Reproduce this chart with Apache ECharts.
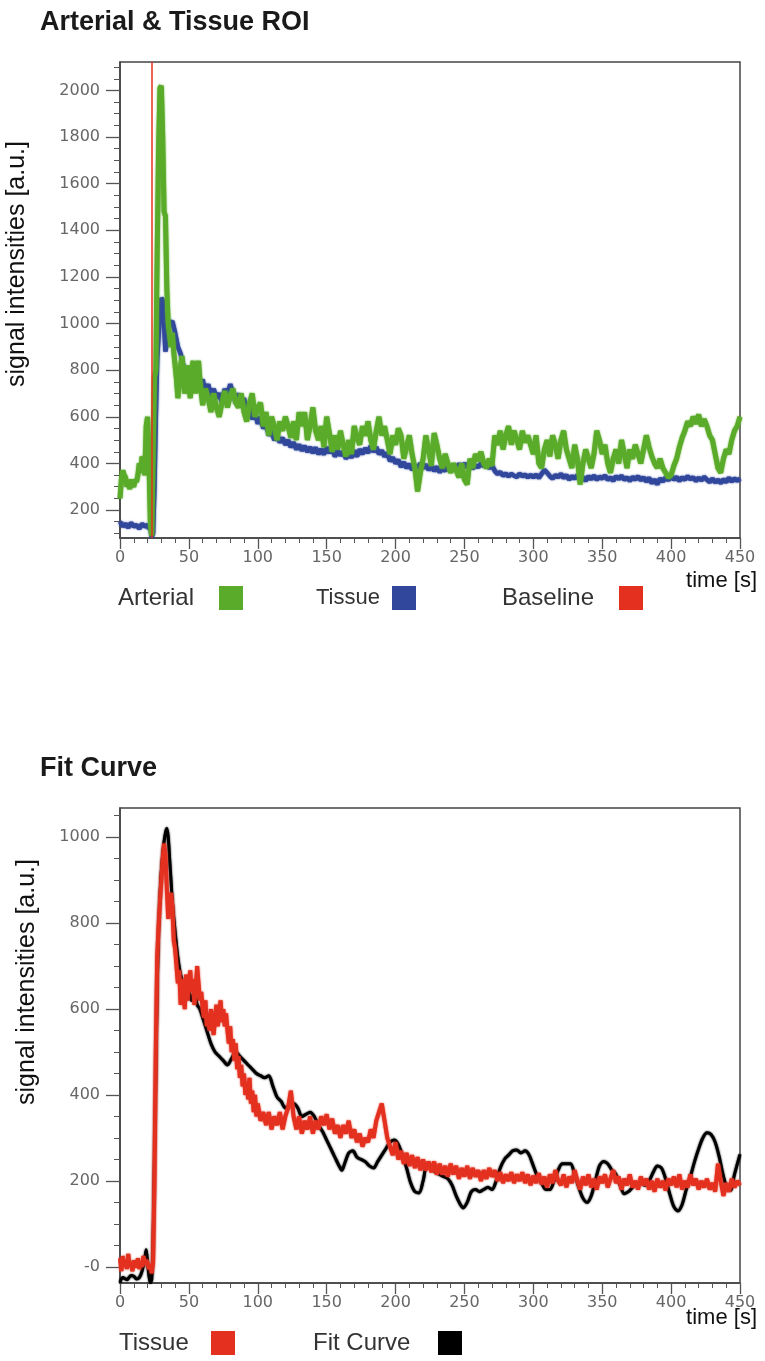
<!DOCTYPE html>
<html><head><meta charset="utf-8">
<script src="https://cdn.jsdelivr.net/npm/echarts@6/dist/echarts.min.js"></script>
<style>html,body{margin:0;padding:0;background:#fff}#c{width:765px;height:1361px}</style>
</head><body><div id="c"></div>
<script>
// ---------- data ----------
const xTicks = [0, 50, 100, 150, 200, 250, 300, 350, 400, 450];
const topYTicks = [200, 400, 600, 800, 1000, 1200, 1400, 1600, 1800, 2000];
const topYMinorTicks = [100,150,250,300,350,450,500,550,650,700,750,850,900,950,1050,1100,1150,1250,1300,1350,1450,1500,1550,1650,1700,1750,1850,1900,1950,2050,2100];
const botYTicks = [0, 200, 400, 600, 800, 1000];
const botYMinorTicks = [50,100,150,250,300,350,450,500,550,650,700,750,850,900,950,1050];

const topTitle = 'Arterial & Tissue ROI';
const botTitle = 'Fit Curve';
const yName = 'signal intensities [a.u.]';
const xName = 'time [s]';
const topNames = ['Arterial', 'Tissue', 'Baseline'];
const topColors = ['#5aab2a', '#30479c', '#e3301f'];
const botNames = ['Tissue', 'Fit Curve'];
const botColors = ['#e3301f', '#000000'];
const baselineTime = 23;

// Arterial ROI [time s, signal]
const arterial = [[0,250],[1,330],[2,370],[3,350],[4,340],[5,300],[6,320],[7,290],[8,330],[9,310],[10,300],[11,330],[12,320],[13,350],[14,400],[15,360],[16,430],[17,380],[18,350],[19,560],[20,600],[21,420],[22,150],[23,90],[24,420],[25,770],[26,800],[27,1300],[28,1750],[29,2010],[30,2020],[31,1800],[32,1480],[33,1460],[34,1150],[35,1000],[36,950],[37,900],[38,960],[39,880],[40,820],[41,760],[42,680],[43,740],[44,820],[45,860],[46,780],[47,700],[48,760],[49,820],[50,740],[51,680],[52,780],[53,840],[54,770],[55,700],[56,800],[57,840],[58,760],[59,700],[60,650],[62,720],[64,680],[66,620],[68,700],[70,640],[72,600],[74,660],[76,710],[78,640],[80,690],[82,720],[84,660],[86,640],[88,700],[90,620],[92,580],[94,660],[96,700],[98,600],[100,640],[102,660],[104,560],[106,620],[108,520],[110,600],[112,560],[114,500],[116,580],[118,540],[120,600],[122,560],[124,510],[126,580],[128,500],[130,620],[132,560],[134,620],[136,500],[138,560],[140,640],[142,540],[144,500],[146,560],[148,470],[150,600],[152,530],[154,450],[156,520],[158,460],[160,540],[162,480],[164,430],[166,500],[168,440],[170,560],[172,510],[174,480],[176,560],[178,520],[180,580],[182,500],[184,460],[186,540],[188,600],[190,520],[192,560],[194,500],[196,440],[198,520],[200,480],[202,550],[204,520],[206,420],[208,470],[210,520],[212,440],[214,380],[216,280],[218,360],[220,420],[222,520],[224,460],[226,390],[228,530],[230,480],[232,420],[234,380],[236,440],[238,400],[240,360],[242,400],[244,370],[246,340],[248,400],[250,330],[252,310],[254,420],[256,380],[258,440],[260,410],[262,450],[264,400],[266,380],[268,420],[270,390],[272,520],[274,480],[276,540],[278,460],[280,520],[282,560],[284,480],[286,540],[288,500],[290,460],[292,540],[294,490],[296,520],[298,480],[300,440],[302,520],[304,400],[306,380],[308,460],[310,500],[312,430],[314,520],[316,480],[318,420],[320,500],[322,540],[324,460],[326,420],[328,380],[330,480],[332,420],[334,310],[336,400],[338,460],[340,420],[342,380],[344,440],[346,540],[348,500],[350,440],[352,480],[354,400],[356,360],[358,420],[360,460],[362,400],[364,500],[366,440],[368,380],[370,460],[372,420],[374,480],[376,440],[378,400],[380,460],[382,520],[384,470],[386,430],[388,400],[390,380],[392,420],[394,380],[396,360],[398,340],[400,350],[402,390],[404,420],[406,470],[408,510],[410,540],[412,580],[414,560],[416,600],[418,570],[420,610],[422,560],[424,590],[426,560],[428,520],[430,500],[432,440],[434,380],[436,360],[438,420],[440,460],[442,440],[444,500],[446,540],[448,560],[450,600]];

// Tissue ROI (top chart)
const tissue = [[0,150],[1,140],[2,130],[4,140],[6,125],[8,145],[10,130],[12,135],[14,120],[16,140],[18,130],[20,135],[21,120],[22,130],[23,85],[24,100],[25,300],[26,600],[27,850],[28,950],[29,1050],[30,1110],[31,1100],[32,1000],[33,880],[34,920],[35,980],[36,1000],[38,1010],[40,960],[42,900],[44,870],[46,820],[48,790],[50,760],[52,800],[54,740],[56,780],[58,720],[60,760],[62,700],[64,740],[66,690],[68,720],[70,680],[72,700],[74,660],[76,720],[78,690],[80,740],[82,700],[84,660],[86,700],[88,650],[90,680],[92,620],[94,640],[96,590],[98,620],[100,570],[102,600],[104,550],[106,570],[108,520],[110,540],[112,500],[114,520],[116,490],[118,510],[120,480],[122,500],[124,470],[126,490],[128,460],[130,480],[132,455],[134,475],[136,450],[138,470],[140,445],[142,468],[144,440],[146,462],[148,438],[150,470],[152,445],[154,465],[156,430],[158,455],[160,435],[162,450],[164,420],[166,445],[168,425],[170,455],[172,430],[174,460],[176,440],[178,465],[180,445],[182,475],[184,450],[186,470],[188,440],[190,455],[192,430],[194,445],[196,410],[198,425],[200,400],[202,415],[204,385],[206,405],[208,380],[210,398],[212,372],[214,392],[216,378],[218,400],[220,380],[222,395],[224,372],[226,390],[228,368],[230,385],[232,362],[234,380],[236,368],[238,388],[240,372],[242,392],[244,378],[246,398],[248,382],[250,400],[252,383],[254,396],[256,378],[258,392],[260,384],[262,400],[264,388],[266,396],[268,380],[270,392],[272,368],[274,355],[276,362],[278,348],[280,356],[282,344],[284,355],[286,347],[288,342],[290,356],[292,345],[294,352],[296,340],[298,350],[300,340],[302,352],[304,338],[306,355],[308,372],[310,360],[312,345],[314,335],[316,350],[318,340],[320,355],[322,338],[324,350],[326,330],[328,345],[330,335],[332,350],[334,330],[336,342],[338,325],[340,345],[342,332],[344,348],[346,330],[348,343],[350,335],[352,348],[354,330],[356,340],[358,325],[360,345],[362,333],[364,347],[366,330],[368,340],[370,325],[372,342],[374,330],[376,345],[378,328],[380,340],[382,322],[384,338],[386,315],[388,330],[390,310],[392,335],[394,322],[396,340],[398,328],[400,345],[402,330],[404,342],[406,325],[408,340],[410,330],[412,345],[414,332],[416,340],[418,325],[420,338],[422,328],[424,342],[426,330],[428,320],[430,335],[432,318],[434,330],[436,315],[438,332],[440,320],[442,338],[444,322],[446,335],[448,325],[450,335]];

// Tissue (bottom chart)
const fitTissue = [[0,20],[1,-10],[2,25],[3,0],[4,15],[5,-5],[6,30],[7,0],[8,10],[9,-10],[10,15],[11,5],[12,0],[13,20],[14,-5],[15,10],[16,0],[17,25],[18,5],[19,15],[20,10],[21,-5],[22,5],[23,-15],[24,10],[25,200],[26,500],[27,720],[28,790],[29,850],[30,900],[31,950],[32,985],[33,960],[34,880],[35,810],[36,850],[37,870],[38,840],[39,760],[40,740],[41,700],[42,660],[43,690],[44,610],[45,670],[46,640],[47,600],[48,680],[49,620],[50,660],[51,690],[52,640],[53,670],[54,610],[55,650],[56,700],[57,660],[58,620],[59,640],[60,600],[61,580],[62,620],[63,560],[64,590],[65,550],[66,600],[67,560],[68,540],[69,580],[70,610],[71,560],[72,590],[73,620],[74,570],[75,600],[76,560],[77,590],[78,550],[79,520],[80,560],[81,500],[82,530],[83,480],[84,520],[85,460],[86,490],[87,440],[88,470],[89,420],[90,450],[91,400],[92,430],[93,390],[94,440],[95,380],[96,410],[97,360],[98,400],[99,350],[100,380],[102,340],[104,360],[106,330],[108,360],[110,320],[112,350],[114,330],[116,360],[118,320],[120,350],[122,370],[124,410],[126,350],[128,320],[130,350],[132,310],[134,340],[136,320],[138,350],[140,310],[142,340],[144,320],[146,350],[148,330],[150,355],[152,320],[154,345],[156,310],[158,330],[160,300],[162,330],[164,310],[166,340],[168,300],[170,320],[172,290],[174,310],[176,280],[178,300],[180,290],[182,320],[184,300],[186,340],[188,360],[190,380],[192,340],[194,300],[196,280],[198,260],[200,290],[202,250],[204,270],[206,240],[208,265],[210,235],[212,260],[214,230],[216,255],[218,225],[220,250],[222,225],[224,245],[226,220],[228,245],[230,215],[232,240],[234,215],[236,235],[238,210],[240,240],[242,215],[244,235],[246,205],[248,230],[250,210],[252,235],[254,205],[256,230],[258,210],[260,225],[262,200],[264,225],[266,205],[268,230],[270,210],[272,225],[274,200],[276,220],[278,195],[280,215],[282,200],[284,220],[286,195],[288,215],[290,200],[292,220],[294,195],[296,215],[298,190],[300,212],[302,195],[304,218],[306,192],[308,210],[310,185],[312,215],[314,195],[316,225],[318,200],[320,190],[322,215],[324,185],[326,210],[328,195],[330,225],[332,200],[334,180],[336,210],[338,190],[340,215],[342,185],[344,205],[346,180],[348,210],[350,195],[352,215],[354,185],[356,205],[358,225],[360,195],[362,210],[364,180],[366,205],[368,190],[370,215],[372,185],[374,200],[376,180],[378,210],[380,190],[382,205],[384,180],[386,200],[388,175],[390,205],[392,185],[394,200],[396,178],[398,205],[400,190],[402,210],[404,185],[406,215],[408,180],[410,200],[412,185],[414,215],[416,190],[418,205],[420,180],[422,200],[424,185],[426,205],[428,180],[430,195],[432,175],[434,240],[436,200],[438,165],[440,195],[442,175],[444,205],[446,185],[448,200],[450,190]];

// Fit curve
const fitCurve = [[0,-37],[2,-25],[5,-30],[8,-20],[10,-22],[12,-28],[14,-25],[16,-10],[18,20],[19,40],[20,10],[21,-20],[22,-37],[23,-30],[24,50],[25,250],[26,450],[27,650],[28,780],[29,860],[30,920],[31,960],[32,990],[33,1010],[34,1020],[35,1000],[36,950],[37,900],[38,850],[40,780],[42,720],[44,680],[46,660],[48,650],[50,640],[52,620],[54,640],[56,610],[58,600],[60,580],[63,550],[66,520],[69,500],[72,490],[75,480],[78,470],[81,485],[84,500],[87,490],[90,480],[93,470],[96,460],[99,450],[102,445],[105,440],[108,445],[111,420],[114,395],[117,385],[120,370],[123,375],[126,380],[129,370],[132,350],[135,355],[138,360],[141,350],[144,330],[147,315],[150,295],[153,275],[156,255],[159,235],[161,225],[163,240],[166,265],[169,270],[172,255],[175,250],[178,245],[181,235],[184,230],[187,245],[190,260],[193,275],[196,290],[199,295],[202,285],[205,260],[208,230],[211,195],[214,175],[217,172],[220,200],[223,240],[226,235],[229,220],[232,215],[235,210],[238,205],[241,190],[244,165],[247,145],[249,137],[252,150],[255,175],[258,180],[261,175],[264,180],[267,185],[270,180],[273,200],[276,230],[279,250],[282,260],[285,270],[288,272],[291,265],[294,270],[297,260],[300,235],[303,210],[306,195],[309,180],[312,180],[315,200],[318,225],[321,240],[324,240],[327,240],[330,215],[333,185],[336,160],[339,150],[342,165],[345,200],[348,235],[351,245],[354,240],[357,225],[360,215],[363,190],[366,170],[369,175],[372,185],[375,195],[378,195],[381,190],[384,200],[387,220],[390,235],[393,230],[396,205],[399,170],[402,140],[405,130],[408,145],[411,180],[414,210],[417,245],[420,275],[423,300],[426,312],[429,308],[432,290],[435,255],[438,210],[441,180],[443,178],[446,215],[450,262]];

// ---------- chart ----------
const chart = echarts.init(document.getElementById('c'), null, {renderer: 'canvas'});
const FRAME = '#444';
const TICKC = '#555';
const labelFont = {fontFamily: 'DejaVu Sans', fontSize: 16, color: '#666'};

function xAxisDef(gi) {
  return {
    type: 'value', gridIndex: gi, min: xTicks[0], max: xTicks[xTicks.length - 1], interval: 50,
    axisLine: {show: true, onZero: false, lineStyle: {color: FRAME, width: 1.5}},
    axisTick: {show: true, length: 11, lineStyle: {color: TICKC, width: 1.3}},
    minorTick: {show: true, splitNumber: 5, length: 5, lineStyle: {color: TICKC, width: 1}},
    axisLabel: Object.assign({margin: 12, formatter: v => String(v)}, labelFont),
    splitLine: {show: false}
  };
}
function yMajor(gi, min, max, ticks, fmt) {
  return {
    type: 'value', gridIndex: gi, min: min, max: max, position: 'left',
    axisLine: {show: true, onZero: false, lineStyle: {color: FRAME, width: 1.5}},
    axisTick: {show: true, length: 14, customValues: ticks, lineStyle: {color: TICKC, width: 1.3}},
    axisLabel: Object.assign({margin: 20, customValues: ticks, formatter: fmt || (v => String(v))}, labelFont),
    splitLine: {show: false}
  };
}
function yMinor(gi, min, max, ticks) {
  return {
    type: 'value', gridIndex: gi, min: min, max: max, position: 'left', offset: 0,
    axisLine: {show: false},
    axisTick: {show: true, length: 6, customValues: ticks, lineStyle: {color: TICKC, width: 1}},
    axisLabel: {show: false},
    splitLine: {show: false}
  };
}

const textFont = 'Liberation Sans, Arial, sans-serif';
function legendItems(names, colors, textX, sizes, boxX, cy) {
  const out = [];
  names.forEach((n, i) => {
    out.push({type: 'text', x: textX[i], y: cy, style: {text: n, font: sizes[i] + 'px ' + textFont, fill: '#333', textVerticalAlign: 'middle', textAlign: 'left'}});
    out.push({type: 'rect', shape: {x: boxX[i], y: cy - 12, width: 24, height: 24}, style: {fill: colors[i]}});
  });
  return out;
}

const option = {
  animation: false,
  backgroundColor: '#fff',
  title: [
    {text: topTitle, left: 35, top: 4, textStyle: {fontFamily: textFont, fontSize: 27, fontWeight: 'bold', color: '#1a1a1a'}},
    {text: botTitle, left: 35, top: 750, textStyle: {fontFamily: textFont, fontSize: 27, fontWeight: 'bold', color: '#1a1a1a'}}
  ],
  grid: [
    {left: 120, top: 62, width: 620, height: 476, show: true, borderColor: FRAME, borderWidth: 1.5, backgroundColor: 'transparent'},
    {left: 120, top: 808, width: 620, height: 475, show: true, borderColor: FRAME, borderWidth: 1.5, backgroundColor: 'transparent'}
  ],
  xAxis: [xAxisDef(0), xAxisDef(1)],
  yAxis: [
    yMajor(0, 80, 2122, topYTicks),
    yMinor(0, 80, 2122, topYMinorTicks),
    yMajor(1, -37.6, 1068, botYTicks, v => (v === 0 ? '-0' : String(v))),
    yMinor(1, -37.6, 1068, botYMinorTicks)
  ],
  series: [
    {name: topNames[1], type: 'line', xAxisIndex: 0, yAxisIndex: 0, data: tissue, showSymbol: false,
     lineStyle: {color: topColors[1], width: 4.5, shadowBlur: 2, shadowColor: topColors[1]}, z: 2,
     markLine: {silent: true, symbol: 'none', label: {show: false}, lineStyle: {color: topColors[2], width: 1.5, type: 'solid'}, data: [{xAxis: baselineTime}]}},
    {name: topNames[0], type: 'line', xAxisIndex: 0, yAxisIndex: 0, data: arterial, showSymbol: false,
     lineStyle: {color: topColors[0], width: 5, shadowBlur: 2, shadowColor: topColors[0]}, z: 3},
    {name: botNames[1], type: 'line', xAxisIndex: 1, yAxisIndex: 2, data: fitCurve, showSymbol: false, smooth: 0.3,
     lineStyle: {color: botColors[1], width: 3, shadowBlur: 2, shadowColor: '#000'}, z: 2},
    {name: botNames[0], type: 'line', xAxisIndex: 1, yAxisIndex: 2, data: fitTissue, showSymbol: false,
     lineStyle: {color: botColors[0], width: 4, shadowBlur: 2, shadowColor: botColors[0]}, z: 3}
  ],
  graphic: [
    {type: 'text', x: 17, y: 264, rotation: Math.PI / 2, style: {text: yName, font: '25px ' + textFont, fill: '#111', textAlign: 'center', textVerticalAlign: 'middle'}},
    {type: 'text', x: 27, y: 982, rotation: Math.PI / 2, style: {text: yName, font: '25px ' + textFont, fill: '#111', textAlign: 'center', textVerticalAlign: 'middle'}},
    {type: 'text', x: 757, y: 581, style: {text: xName, font: '22px ' + textFont, fill: '#111', textAlign: 'right', textVerticalAlign: 'middle'}},
    {type: 'text', x: 757, y: 1318, style: {text: xName, font: '22px ' + textFont, fill: '#111', textAlign: 'right', textVerticalAlign: 'middle'}}
  ].concat(
    legendItems(topNames, topColors, [118, 316, 502], [24, 22, 24], [219, 392, 619], 598),
    legendItems(botNames, botColors, [119, 313], [24, 24], [211, 438], 1343)
  )
};
chart.setOption(option);
</script>
</body></html>
